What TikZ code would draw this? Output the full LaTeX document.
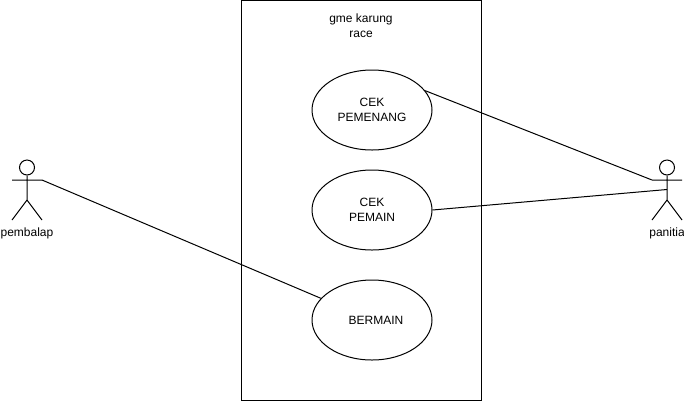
\documentclass[tikz,border=0pt]{standalone}
\usepackage{fontspec}
\setmainfont{Liberation Sans}
\usetikzlibrary{positioning,shapes.geometric}
\begin{document}
\begin{tikzpicture}[x=0.75pt,y=-0.75pt,
  font=\fontsize{9pt}{11pt}\selectfont,line width=0.75pt,
  usecase/.style={draw,ellipse,minimum width=90pt,minimum height=60pt,inner sep=0pt,align=center},
  head/.style={draw,circle,minimum size=11.25pt,inner sep=0pt},
  lab/.style={align=center,inner sep=0pt},
  link/.style={line width=0.75pt}]
  \useasboundingbox (0,0) rectangle (684,401);
  \node[draw,minimum width=180pt,minimum height=300pt,inner sep=0pt] (sys) at (361,200.5) {};
  \node[lab] (title) at (361,25.5) {gme karung\\race};
  \node[usecase] (menang) at (372,110) {CEK\\PEMENANG};
  \node[usecase] (pemain) at (372,210) {CEK\\PEMAIN};
  \node[usecase] (main) at (372,320) {\hspace*{6pt}BERMAIN};
  % pembalap
  \node[head] (head1) at (27,167.5) {};
  \coordinate (hip1) at (27,200);
  \coordinate (armL1) at (12,180);
  \coordinate (armR1) at (42,180);
  \coordinate (legL1) at (12,220);
  \coordinate (legR1) at (42,220);
  \draw (head1) -- (hip1) (armL1) -- (armR1) (legL1) -- (hip1) -- (legR1);
  \node[lab] (pembalap) at (27,233.5) {pembalap};
  % panitia
  \node[head] (head2) at (667,167.5) {};
  \coordinate (hip2) at (667,200);
  \coordinate (armL2) at (652,180);
  \coordinate (armR2) at (682,180);
  \coordinate (legL2) at (652,220);
  \coordinate (legR2) at (682,220);
  \coordinate (spine2) at (667,189.5);
  \draw (head2) -- (hip2) (armL2) -- (armR2) (legL2) -- (hip2) -- (legR2);
  \node[lab] (panitia) at (667,233.5) {panitia};
  \foreach \a/\b in {armR1/main,menang.20/armL2,pemain.east/spine2}
    \draw[link] (\a) -- (\b);
\end{tikzpicture}
\end{document}
